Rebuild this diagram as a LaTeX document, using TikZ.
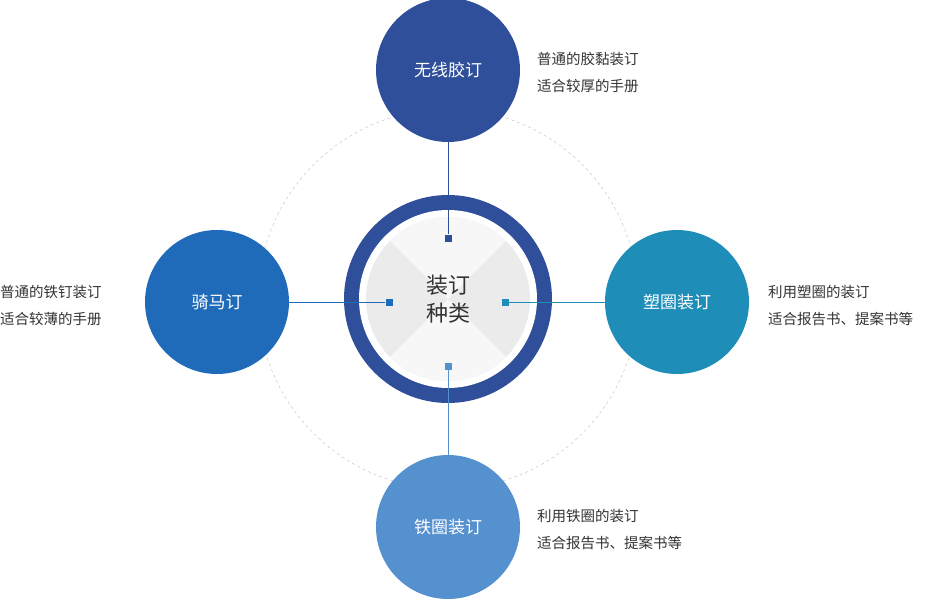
\documentclass[tikz,border=0pt]{standalone}
\usepackage{fontspec}
\setmainfont{Noto Sans CJK SC}
\definecolor{navy}{HTML}{2F4F9B}
\definecolor{midblue}{HTML}{1F6BBA}
\definecolor{teal}{HTML}{1E8DB8}
\definecolor{skyblue}{HTML}{5590CF}
\definecolor{txt}{HTML}{333333}
\tikzset{
  kind/.style={circle,minimum size=144pt,inner sep=0pt,text=white,font=\fontsize{17}{20}\selectfont},
  note/.style={align=left,anchor=west,text=txt,font=\fontsize{14.5}{27}\selectfont,inner sep=0pt},
  dot/.style={minimum size=7pt,inner sep=0pt}
}
\begin{document}
\begin{tikzpicture}[x=1pt,y=-1pt]
\useasboundingbox (0,0) rectangle (948,599);
% guide circle
\draw[gray!50,dashed] (448,299) circle (190);
% center
\fill[navy] (448,299) circle (104);
\fill[white] (448,299) circle (89);
\fill[black!8] (448,299) circle (82);
\fill[black!3] (448,299) -- ++(-58,-58) arc (225:315:82) -- cycle;
\fill[black!3] (448,299) -- ++(58,58) arc (45:135:82) -- cycle;
\node[text=txt,align=center,font=\fontsize{22}{28}\selectfont] (core) at (448,299) {装订\\种类};
% four kinds
\node[kind,fill=navy] (top) at (448,70) {无线胶订};
\node[kind,fill=midblue] (left) at (217,302) {骑马订};
\node[kind,fill=teal] (right) at (677,302) {塑圈装订};
\node[kind,fill=skyblue] (bottom) at (448,527) {铁圈装订};
\node[dot,fill=navy] (dtop) at (448,238) {};
\node[dot,fill=midblue] (dleft) at (389,302) {};
\node[dot,fill=teal] (dright) at (505,302) {};
\node[dot,fill=skyblue] (dbottom) at (448,366) {};
\draw[navy] (top) -- (dtop);
\draw[midblue] (left) -- (dleft);
\draw[teal] (right) -- (dright);
\draw[skyblue] (bottom) -- (dbottom);
% notes
\node[note] (ntop) at (537,72) {普通的胶黏装订\\适合较厚的手册};
\node[note] (nleft) at (0,306) {普通的铁钉装订\\适合较薄的手册};
\node[note] (nright) at (768,306) {利用塑圈的装订\\适合报告书、提案书等};
\node[note] (nbottom) at (537,530) {利用铁圈的装订\\适合报告书、提案书等};
\end{tikzpicture}
\end{document}
